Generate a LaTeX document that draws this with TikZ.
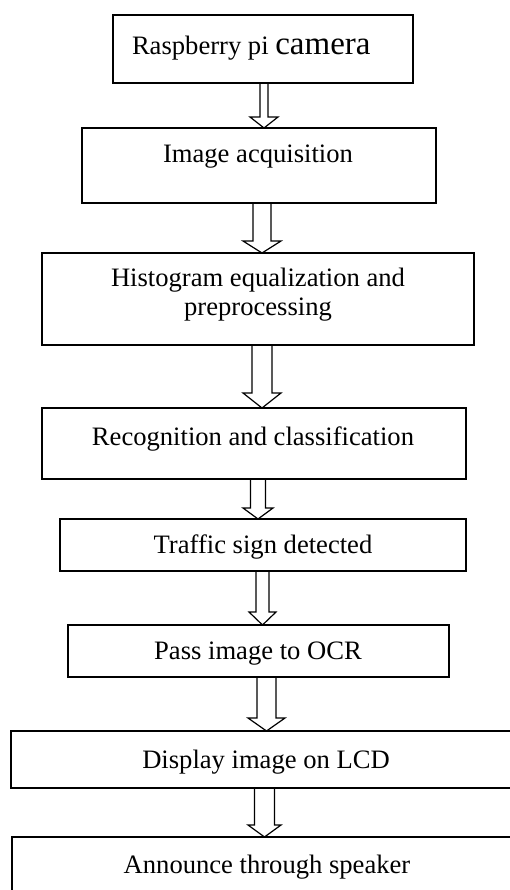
\documentclass[tikz,border=0pt]{standalone}
\usepackage{fontspec}
\setmainfont{Liberation Serif}
\usetikzlibrary{calc}
\tikzset{
  boxnode/.style={draw, line width=1.2pt, rectangle, inner sep=0pt, outer sep=0pt},
  lbl/.style={anchor=base, inner sep=0pt, outer sep=0pt, align=center,
    font=\fontsize{26.6pt}{28pt}\selectfont},
  barrow/.style={draw, line width=1.2pt, line join=miter},
}
\newcommand\blockarr[6]{%
  \draw[barrow] let \p1=(#1.south), \p2=(#2.north) in
    (#3pt-#4pt,\y1) -- (#3pt-#4pt,\y2+#6pt) -- (#3pt-#5pt,\y2+#6pt) -- (#3pt,\y2)
    -- (#3pt+#5pt,\y2+#6pt) -- (#3pt+#4pt,\y2+#6pt) -- (#3pt+#4pt,\y1);}
\begin{document}
\begin{tikzpicture}[x=1pt,y=-1pt]
\useasboundingbox (0,0) rectangle (509,890);
\fill[white] (0,0) rectangle (509,890);
% boxes
\node[boxnode, minimum width=300pt, minimum height=68pt] (b1) at (263,49) {};
\node[boxnode, minimum width=354pt, minimum height=75pt] (b2) at (259,165.5) {};
\node[boxnode, minimum width=432pt, minimum height=92pt] (b3) at (258,299) {};
\node[boxnode, minimum width=424pt, minimum height=71pt] (b4) at (254,443.5) {};
\node[boxnode, minimum width=406pt, minimum height=52pt] (b5) at (263,545) {};
\node[boxnode, minimum width=381pt, minimum height=52pt] (b6) at (258.5,651) {};
\node[boxnode, minimum width=515pt, minimum height=57pt] (b7) at (268.5,759.5) {};
\node[boxnode, minimum width=515pt, minimum height=102pt] (b8) at (269.5,888) {};
% texts
\node[lbl, anchor=base west] (t1) at (132,55) {Raspberry pi {\fontsize{33pt}{36pt}\selectfont camera}};
\node[lbl] (t2) at (258,163) {Image acquisition};
\node[lbl] (t3a) at (258,287) {Histogram equalization and};
\node[lbl] (t3b) at (258,315) {preprocessing};
\node[lbl] (t4) at (253,445) {Recognition and classification};
\node[lbl] (t5) at (263,553) {Traffic sign detected};
\node[lbl] (t6) at (258,659) {Pass image to OCR};
\node[lbl] (t7) at (266,768) {Display image on LCD};
\node[lbl] (t8) at (267,873) {Announce through speaker};
% block arrows
\blockarr{b1}{b2}{264}{4}{14}{11}
\blockarr{b2}{b3}{262}{9}{19}{12}
\blockarr{b3}{b4}{262}{10}{19}{15}
\blockarr{b4}{b5}{258}{7.5}{15}{11}
\blockarr{b5}{b6}{262.5}{6.5}{13.5}{13}
\blockarr{b6}{b7}{266.5}{9.5}{18.5}{13}
\blockarr{b7}{b8}{264.5}{10}{16.5}{12}
\end{tikzpicture}
\end{document}
